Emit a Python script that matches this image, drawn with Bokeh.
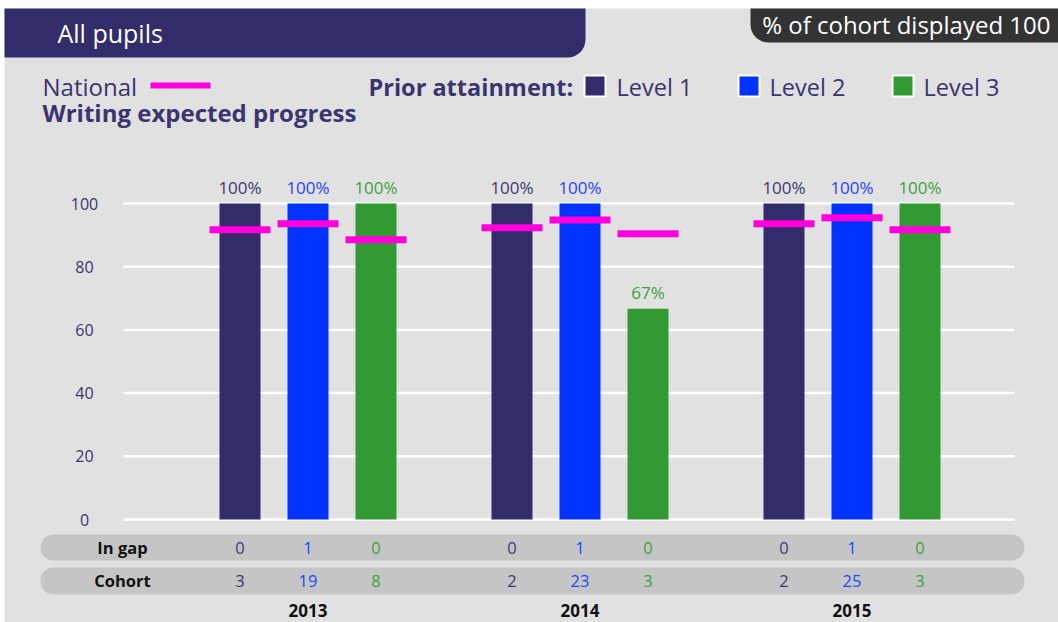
from bokeh.plotting import figure
from bokeh.models import Range1d, ColumnDataSource
from bokeh.transform import dodge
from bokeh.core.properties import value
from bokeh.embed import file_html
from bokeh.resources import INLINE

# ---------------- data ----------------
years = ["2013", "2014", "2015"]
levels = ["Level 1", "Level 2", "Level 3"]
level_colors = ["#332c6b", "#0033ff", "#339933"]
level_text_colors = ["#3d3775", "#1f45ff", "#3f9f3f"]
pct_level1 = [100, 100, 100]
pct_level2 = [100, 100, 100]
pct_level3 = [100, 66.7, 100]
national_level1 = [91.7, 92.3, 93.6]
national_level2 = [93.6, 94.8, 95.5]
national_level3 = [88.5, 90.4, 91.7]
in_gap_level1 = [0, 0, 0]
in_gap_level2 = [1, 1, 1]
in_gap_level3 = [0, 0, 0]
cohort_level1 = [3, 2, 2]
cohort_level2 = [19, 23, 25]
cohort_level3 = [8, 3, 3]
y_ticks = [0, 20, 40, 60, 80, 100]
header_title = "All pupils"
cohort_note = "% of cohort displayed 100"
subject_title = "Writing expected progress"

# ---------------- geometry ----------------
W, H = 1058, 622
PX_PER_GROUP = 272.0
GROUP0_X = 307.5
PX_PER_UNIT = 3.16
ZERO_Y = 519.0
FONT = value("Open Sans")
TXT = "#3a3470"

x_start = -GROUP0_X / PX_PER_GROUP
y_start = -(H - ZERO_Y) / PX_PER_UNIT
p = figure(width=W, height=H, output_backend="svg", toolbar_location=None,
           x_range=Range1d(x_start, x_start + W / PX_PER_GROUP),
           y_range=Range1d(y_start, ZERO_Y / PX_PER_UNIT),
           x_axis_location=None, y_axis_location=None, min_border=0)
p.extra_x_ranges = {"px": Range1d(0, W)}
p.extra_y_ranges = {"px": Range1d(H, 0)}
p.grid.visible = False
p.outline_line_color = None
p.background_fill_color = "white"
p.border_fill_color = "white"

PX = dict(x_range_name="px", y_range_name="px")

# panel background
p.quad(left=4, right=W, top=8, bottom=H, fill_color="#e1e1e1", line_color=None, **PX)

# header bars
p.quad(left=4, right=585, top=8, bottom=57, fill_color="#332c6b", line_color=None,
       border_radius=(0, 0, 18, 0), **PX)
p.quad(left=750, right=W, top=8, bottom=42, fill_color="#333333", line_color=None,
       border_radius=(0, 0, 0, 18), **PX)
p.text(x=[57], y=[32], text=[header_title], text_color="white", text_font=FONT,
       text_font_size=value("25px"), text_baseline="middle", **PX)
p.text(x=[1050], y=[24], text=[cohort_note], text_color="white", text_font=FONT,
       text_font_size=value("24px"), text_baseline="middle", text_align="right", **PX)

# legend
p.text(x=[42], y=[86], text=["National"], text_color=TXT, text_font=FONT,
       text_font_size=value("24px"), text_baseline="middle", **PX)
p.segment(x0=[150], x1=[210], y0=[85], y1=[85], line_color="#ff00dd", line_width=6, **PX)
p.text(x=[42], y=[112], text=[subject_title], text_color=TXT, text_font=FONT,
       text_font_style="bold", text_font_size=value("24px"), text_baseline="middle", **PX)
p.text(x=[368], y=[86], text=["Prior attainment:"], text_color=TXT, text_font=FONT,
       text_font_style="bold", text_font_size=value("23.5px"), text_baseline="middle", **PX)
leg_x = [594.5, 748.5, 902.5]
p.rect(x=leg_x, y=[85.5] * 3, width=21, height=21, fill_color=level_colors,
       line_color="white", line_width=2, **PX)
p.text(x=[616, 769, 923], y=[86] * 3, text=levels, text_color=TXT, text_font=FONT,
       text_font_size=value("23.5px"), text_baseline="middle", **PX)

# grid lines and y tick labels
p.segment(x0=123, x1=1014, y0=y_ticks, y1=y_ticks, line_color="white", line_width=2.5,
          x_range_name="px")
p.text(x=[84] * len(y_ticks), y=y_ticks, text=[str(t) for t in y_ticks], text_color=TXT,
       text_font=FONT, text_font_size=value("16px"), text_align="center",
       text_baseline="middle", x_range_name="px")

# table row backgrounds
p.quad(left=40, right=1024, top=[534, 567], bottom=[560, 594], fill_color="#c5c5c5",
       line_color=None, border_radius=13, **PX)
p.text(x=[122, 122], y=[547, 580], text=["In gap", "Cohort"], text_color="#111111",
       text_font=FONT, text_font_style="bold", text_font_size=value("16.5px"),
       text_align="center", text_baseline="middle", **PX)

# year labels
ysrc = ColumnDataSource(dict(group=list(range(len(years))), year=years))
p.text(x="group", y=610, text="year", source=ysrc, text_color="#111111", text_font=FONT,
       text_font_style="bold", text_font_size=value("17px"), text_align="center",
       text_baseline="middle", y_range_name="px")

# bars per level
series = [
    (pct_level1, national_level1, in_gap_level1, cohort_level1),
    (pct_level2, national_level2, in_gap_level2, cohort_level2),
    (pct_level3, national_level3, in_gap_level3, cohort_level3),
]
offsets = [-0.25, 0.0, 0.25]
BAR_W = 41 / PX_PER_GROUP
for i, (pct, nat, gap, coh) in enumerate(series):
    src = ColumnDataSource(dict(
        group=list(range(len(years))), pct=pct, nat=nat,
        label=[f"{round(v)}%" for v in pct],
        gap=[str(g) for g in gap], cohort=[str(c) for c in coh]))
    xd = dodge("group", offsets[i])
    p.vbar(x=xd, top="pct", bottom=0, width=BAR_W, source=src,
           fill_color=level_colors[i], line_color=None)
    p.text(x=xd, y="pct", text="label", source=src, y_offset=-16,
           text_color=level_text_colors[i], text_font=FONT, text_font_size=value("17px"),
           text_align="center", text_baseline="middle")
    p.text(x=xd, y=547, text="gap", source=src, text_color=level_text_colors[i],
           text_font=FONT, text_font_size=value("16.5px"), text_align="center",
           text_baseline="middle", y_range_name="px")
    p.text(x=xd, y=580, text="cohort", source=src, text_color=level_text_colors[i],
           text_font=FONT, text_font_size=value("16.5px"), text_align="center",
           text_baseline="middle", y_range_name="px")

for i, (pct, nat, gap, coh) in enumerate(series):
    src = ColumnDataSource(dict(group=list(range(len(years))), nat=nat))
    p.rect(x=dodge("group", offsets[i]), y="nat", width=61, width_units="screen",
           height=7, height_units="screen", source=src, fill_color="#ff00dd",
           line_color=None)

open("out.html", "w").write(file_html(p, INLINE))
